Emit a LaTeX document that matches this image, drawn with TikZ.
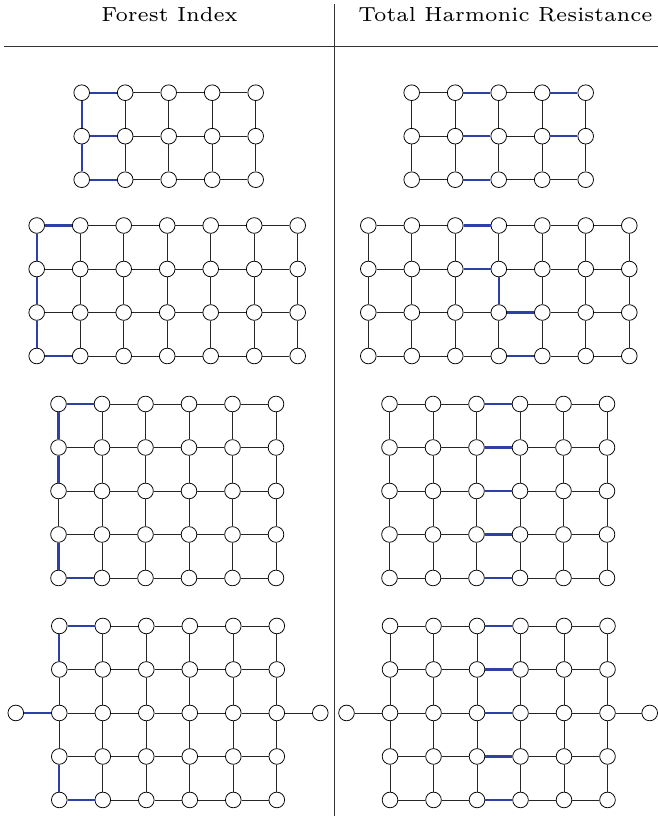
\documentclass[tikz,border=0pt]{standalone}
\usepackage{tikz}
\usetikzlibrary{positioning}
\definecolor{PathBlue}{RGB}{45,65,165}
\tikzset{
  v/.style={circle,draw=black,fill=white,inner sep=0pt,minimum size=0.36cm,line width=0.5pt},
  gridedge/.style={draw=black!85,line width=0.6pt},
  blueedge/.style={draw=PathBlue,line width=1.4pt},
  rule/.style={draw=black!80,line width=0.6pt},
  head/.style={anchor=base,font=\fontsize{6}{7}\selectfont,scale=2.22},
}
% grid of #2 rows and #3 columns, nodes named #1-row-col
\newcommand{\gridgraph}[3]{%
  \foreach \r in {1,...,#2} {\foreach \c in {1,...,#3} {\node[v] (#1-\r-\c) at ({\c-1},{1-\r}) {};}}
  \foreach \r in {1,...,#2} {\foreach \c [remember=\c as \p (initially 1)] in {2,...,#3} {\draw[gridedge] (#1-\r-\p)--(#1-\r-\c);}}
  \foreach \c in {1,...,#3} {\foreach \r [remember=\r as \p (initially 1)] in {2,...,#2} {\draw[gridedge] (#1-\p-\c)--(#1-\r-\c);}}
}
\begin{document}
\begin{tikzpicture}
  \useasboundingbox (0,0) rectangle (15.126,-18.759);
  % table header
  \node[head] (fi) at (3.90,-0.50) {Forest Index};
  \node[head] (thr) at (11.62,-0.50) {Total Harmonic Resistance};
  \draw[rule] (0.1,-1.073)--(15.126,-1.073);
  \draw[rule] (7.70,-0.1)--(7.70,-18.759);

  % row 1
  \begin{scope}[shift={(1.878,-2.131)}]
    \gridgraph{ga}{3}{5}
    \foreach \i/\j in {1-1/1-2,2-1/2-2,3-1/3-2,1-1/2-1,2-1/3-1} {\draw[blueedge] (ga-\i)--(ga-\j);}
  \end{scope}
  \begin{scope}[shift={(9.464,-2.131)}]
    \gridgraph{gb}{3}{5}
    \foreach \i/\j in {1-2/1-3,1-4/1-5,2-2/2-3,2-4/2-5,3-2/3-3} {\draw[blueedge] (gb-\i)--(gb-\j);}
  \end{scope}

  % row 2
  \begin{scope}[shift={(0.844,-5.184)}]
    \gridgraph{gc}{4}{7}
    \foreach \i/\j in {1-1/1-2,1-1/2-1,2-1/3-1,3-1/4-1,4-1/4-2} {\draw[blueedge] (gc-\i)--(gc-\j);}
  \end{scope}
  \begin{scope}[shift={(8.467,-5.184)}]
    \gridgraph{gd}{4}{7}
    \foreach \i/\j in {1-3/1-4,2-3/2-4,2-4/3-4,3-4/3-5,4-4/4-5} {\draw[blueedge] (gd-\i)--(gd-\j);}
  \end{scope}

  % row 3
  \begin{scope}[shift={(1.345,-9.287)}]
    \gridgraph{ge}{5}{6}
    \foreach \i/\j in {1-1/1-2,1-1/2-1,2-1/3-1,4-1/5-1,5-1/5-2} {\draw[blueedge] (ge-\i)--(ge-\j);}
  \end{scope}
  \begin{scope}[shift={(8.954,-9.287)}]
    \gridgraph{gf}{5}{6}
    \foreach \r in {1,...,5} {\draw[blueedge] (gf-\r-3)--(gf-\r-4);}
  \end{scope}

  % row 4
  \begin{scope}[shift={(1.363,-14.39)}]
    \gridgraph{gg}{5}{6}
    \node[v] (gg-w) at (-1,-2) {};
    \node[v] (gg-e) at (6,-2) {};
    \draw[gridedge] (gg-3-6)--(gg-e);
    \foreach \i/\j in {1-1/1-2,1-1/2-1,4-1/5-1,5-1/5-2} {\draw[blueedge] (gg-\i)--(gg-\j);}
    \draw[blueedge] (gg-w)--(gg-3-1);
  \end{scope}
  \begin{scope}[shift={(8.966,-14.39)}]
    \gridgraph{gh}{5}{6}
    \node[v] (gh-w) at (-1,-2) {};
    \node[v] (gh-e) at (5.97,-2) {};
    \draw[gridedge] (gh-w)--(gh-3-1);
    \draw[gridedge] (gh-3-6)--(gh-e);
    \foreach \r in {1,...,5} {\draw[blueedge] (gh-\r-3)--(gh-\r-4);}
  \end{scope}
\end{tikzpicture}
\end{document}
